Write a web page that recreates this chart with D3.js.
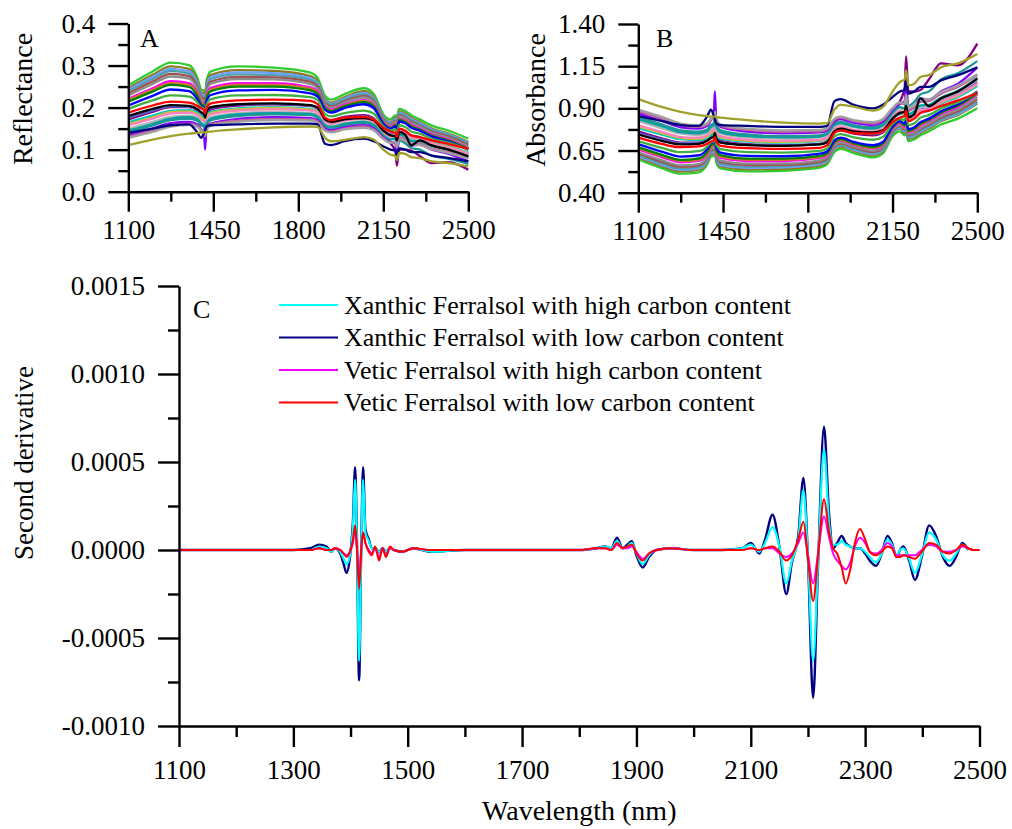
<!DOCTYPE html>
<html>
<head>
<meta charset="utf-8">
<script src="https://cdn.jsdelivr.net/npm/d3@7"></script>
<style>
  html, body { margin: 0; padding: 0; background: #fff; }
  svg { display: block; font-family: "Liberation Serif", "Times New Roman", Times, serif; }
  svg text { font-family: "Liberation Serif", "Times New Roman", Times, serif; }
</style>
</head>
<body>
<svg id="fig" width="1012" height="829"></svg>
<script>
// ---------- Panels A and B: raw spectra of the soil samples ----------
const spectraWavelengths = [1100,1200,1275,1350,1385,1400,1412,1416,1422,1440,1550,1700,1850,1880,1910,1935,1990,2070,2110,2150,2180,2200,2206,2215,2240,2265,2300,2350,2420,2500];

const reflectanceSpectra = [
  [.253,.286,.307,.301,.270,.243,.240,.226,.264,.286,.298,.295,.283,.270,.228,.219,.232,.246,.233,.184,.172,.182,.177,.197,.192,.182,.172,.157,.145,.126],
  [.246,.278,.298,.292,.262,.236,.233,.219,.256,.278,.289,.287,.275,.262,.221,.212,.225,.239,.226,.178,.166,.176,.170,.191,.186,.176,.166,.150,.138,.118],
  [.242,.273,.292,.286,.257,.232,.229,.215,.251,.273,.284,.282,.270,.258,.218,.209,.222,.235,.223,.176,.164,.173,.167,.188,.183,.173,.163,.148,.136,.116],
  [.238,.268,.287,.281,.253,.228,.225,.212,.247,.268,.279,.277,.266,.254,.215,.207,.219,.232,.220,.174,.162,.171,.165,.185,.180,.170,.160,.146,.134,.115],
  [.233,.262,.280,.275,.248,.224,.220,.208,.242,.262,.273,.272,.261,.250,.211,.203,.215,.228,.216,.172,.160,.168,.161,.182,.177,.167,.157,.143,.131,.111],
  [.229,.256,.274,.269,.243,.220,.216,.204,.237,.257,.268,.267,.256,.245,.208,.200,.212,.224,.213,.170,.158,.166,.158,.179,.175,.164,.155,.140,.128,.108],
  [.221,.246,.263,.258,.234,.213,.209,.198,.229,.247,.258,.258,.248,.238,.203,.195,.207,.218,.207,.166,.154,.162,.153,.174,.170,.159,.150,.136,.124,.104],
  [.218,.242,.258,.254,.231,.211,.206,.196,.226,.243,.254,.254,.245,.235,.201,.193,.205,.216,.205,.164,.152,.160,.151,.172,.168,.157,.148,.134,.122,.103],
  [.214,.238,.254,.249,.227,.208,.204,.193,.222,.239,.250,.250,.241,.232,.199,.191,.203,.213,.203,.163,.151,.158,.149,.171,.166,.155,.147,.133,.121,.102],
  [.205,.228,.243,.239,.219,.203,.199,.190,.214,.230,.241,.242,.234,.226,.195,.188,.199,.208,.199,.161,.150,.155,.145,.167,.163,.152,.145,.131,.119,.100],
  [.197,.217,.229,.226,.212,.200,.197,.188,.206,.220,.229,.230,.225,.218,.185,.179,.187,.193,.186,.156,.146,.148,.138,.158,.154,.143,.138,.126,.116,.101],
  [.172,.190,.201,.201,.192,.182,.178,.165,.184,.196,.205,.208,.204,.197,.175,.170,.178,.182,.175,.140,.115,.095,.062,.100,.100,.098,.085,.068,.070,.052],
  [.176,.193,.203,.202,.194,.185,.181,.171,.187,.199,.207,.209,.205,.199,.174,.169,.175,.179,.173,.146,.136,.136,.124,.145,.139,.128,.126,.114,.104,.088],
  [.165,.181,.192,.194,.188,.180,.177,.167,.180,.190,.198,.201,.197,.191,.170,.166,.174,.178,.171,.143,.134,.138,.128,.148,.143,.133,.130,.118,.108,.093],
  [.161,.177,.189,.191,.185,.176,.172,.162,.176,.187,.196,.199,.195,.189,.168,.163,.171,.175,.168,.141,.132,.136,.126,.146,.141,.131,.128,.116,.106,.091],
  [.158,.174,.186,.188,.182,.172,.168,.157,.172,.184,.193,.196,.193,.187,.166,.161,.169,.173,.166,.140,.131,.135,.124,.145,.140,.129,.127,.115,.105,.090],
  [.150,.166,.178,.181,.176,.166,.162,.150,.165,.177,.187,.190,.187,.181,.160,.156,.163,.168,.161,.136,.126,.129,.116,.139,.134,.124,.122,.111,.101,.085],
  [.146,.161,.174,.177,.172,.162,.158,.146,.162,.174,.184,.187,.185,.179,.158,.154,.161,.166,.159,.134,.124,.126,.112,.136,.131,.121,.120,.109,.099,.083],
  [.142,.157,.170,.173,.168,.158,.154,.142,.158,.170,.180,.184,.182,.176,.155,.151,.158,.163,.156,.130,.118,.116,.100,.122,.115,.104,.100,.085,.078,.066],
  [.135,.150,.163,.166,.160,.148,.140,.100,.150,.162,.173,.177,.175,.170,.150,.146,.153,.158,.151,.129,.118,.115,.088,.128,.122,.110,.112,.100,.090,.072],
  [.131,.146,.159,.162,.157,.147,.143,.135,.148,.160,.169,.173,.172,.167,.147,.143,.150,.155,.148,.127,.117,.119,.108,.130,.125,.115,.114,.103,.094,.080],
  [.128,.142,.155,.159,.154,.145,.141,.132,.146,.157,.166,.170,.169,.164,.145,.141,.148,.152,.146,.125,.116,.118,.105,.126,.121,.112,.111,.101,.092,.079],
  [.140,.150,.158,.160,.140,.128,.140,.145,.155,.158,.160,.162,.162,.160,.114,.111,.120,.126,.120,.108,.100,.098,.085,.103,.100,.094,.094,.086,.080,.072],
  [.111,.124,.132,.138,.140,.141,.141,.141,.142,.143,.148,.153,.155,.154,.128,.120,.123,.130,.124,.100,.088,.085,.075,.092,.090,.082,.080,.072,.068,.060],
  [.180,.197,.206,.204,.196,.189,.185,.176,.190,.201,.208,.210,.206,.200,.172,.166,.172,.175,.170,.145,.134,.132,.122,.142,.136,.110,.122,.110,.100,.084],
  [.188,.205,.214,.212,.204,.198,.194,.186,.198,.210,.217,.219,.216,.208,.176,.170,.176,.178,.172,.152,.143,.140,.130,.150,.145,.134,.130,.122,.113,.102]
];

const absorbanceSpectra = [
  [.597,.544,.513,.521,.569,.614,.620,.646,.578,.544,.526,.530,.548,.569,.642,.660,.635,.609,.633,.735,.764,.740,.752,.706,.717,.740,.764,.804,.839,.900],
  [.609,.556,.526,.535,.582,.627,.633,.660,.592,.556,.539,.542,.561,.582,.656,.674,.648,.622,.646,.750,.780,.754,.770,.719,.730,.754,.780,.824,.860,.928],
  [.616,.564,.535,.544,.590,.635,.640,.668,.600,.564,.547,.550,.569,.588,.662,.680,.654,.629,.652,.754,.785,.762,.777,.726,.738,.762,.788,.830,.866,.935],
  [.623,.572,.542,.551,.597,.642,.648,.674,.607,.572,.554,.558,.575,.595,.668,.684,.660,.635,.658,.759,.790,.767,.782,.733,.745,.770,.796,.836,.873,.939],
  [.633,.582,.553,.561,.606,.650,.658,.682,.616,.582,.564,.565,.583,.602,.676,.693,.668,.642,.666,.764,.796,.775,.793,.740,.752,.777,.804,.845,.883,.955],
  [.640,.592,.562,.570,.614,.658,.666,.690,.625,.590,.572,.573,.592,.611,.682,.699,.674,.650,.672,.770,.801,.780,.801,.747,.757,.785,.810,.854,.893,.967],
  [.656,.609,.580,.588,.631,.672,.680,.703,.640,.607,.588,.588,.606,.623,.693,.710,.684,.662,.684,.780,.812,.790,.815,.759,.770,.799,.824,.866,.907,.983],
  [.662,.616,.588,.595,.636,.676,.686,.708,.646,.614,.595,.595,.611,.629,.697,.714,.688,.666,.688,.785,.818,.796,.821,.764,.775,.804,.830,.873,.914,.987],
  [.670,.623,.595,.604,.644,.682,.690,.714,.654,.622,.602,.602,.618,.635,.701,.719,.693,.672,.693,.788,.821,.801,.827,.767,.780,.810,.833,.876,.917,.991],
  [.688,.642,.614,.622,.660,.693,.701,.721,.670,.638,.618,.616,.631,.646,.710,.726,.701,.682,.701,.793,.824,.810,.839,.777,.788,.818,.839,.883,.924,1.000],
  [.706,.664,.640,.646,.674,.699,.706,.726,.686,.658,.640,.638,.648,.662,.733,.747,.728,.714,.730,.807,.836,.830,.860,.801,.812,.845,.860,.900,.935,.996],
  [.764,.721,.697,.697,.717,.740,.750,.782,.735,.708,.688,.682,.690,.706,.757,.770,.750,.740,.757,.854,.939,1.022,1.208,1.000,1.000,1.009,1.071,1.167,1.155,1.284],
  [.754,.714,.693,.695,.712,.733,.742,.767,.728,.701,.684,.680,.688,.701,.759,.772,.757,.747,.762,.836,.866,.866,.907,.839,.857,.893,.900,.943,.983,1.056],
  [.782,.742,.717,.712,.726,.745,.752,.777,.745,.721,.703,.697,.706,.719,.770,.780,.759,.750,.767,.845,.873,.860,.893,.830,.845,.876,.886,.928,.967,1.032],
  [.793,.752,.724,.719,.733,.754,.764,.790,.754,.728,.708,.701,.710,.724,.775,.788,.767,.757,.775,.851,.879,.866,.900,.836,.851,.883,.893,.935,.975,1.041],
  [.801,.759,.730,.726,.740,.764,.775,.804,.764,.735,.714,.708,.714,.728,.780,.793,.772,.762,.780,.854,.883,.870,.907,.839,.854,.889,.896,.939,.979,1.046],
  [.824,.780,.750,.742,.754,.780,.790,.824,.782,.752,.728,.721,.728,.742,.796,.807,.788,.775,.793,.866,.900,.889,.935,.857,.873,.907,.914,.955,.996,1.071],
  [.836,.793,.759,.752,.764,.790,.801,.836,.790,.759,.735,.728,.733,.747,.801,.812,.793,.780,.799,.873,.907,.900,.951,.866,.883,.917,.921,.963,1.004,1.081],
  [.848,.804,.770,.762,.775,.801,.812,.848,.801,.770,.745,.735,.740,.754,.810,.821,.801,.788,.807,.886,.928,.935,1.000,.914,.939,.983,1.000,1.071,1.108,1.180],
  [.870,.824,.788,.780,.796,.830,.854,1.000,.824,.790,.762,.752,.757,.770,.824,.836,.815,.801,.821,.889,.928,.939,1.056,.893,.914,.959,.951,1.000,1.046,1.143],
  [.883,.836,.799,.790,.804,.833,.845,.870,.830,.796,.772,.762,.764,.777,.833,.845,.824,.810,.830,.896,.932,.924,.967,.886,.903,.939,.943,.987,1.027,1.097],
  [.893,.848,.810,.799,.812,.839,.851,.879,.836,.804,.780,.770,.772,.785,.839,.851,.830,.818,.836,.903,.935,.928,.979,.900,.917,.951,.955,.996,1.036,1.102],
  [.854,.824,.801,.796,.854,.893,.854,.839,.810,.801,.796,.790,.790,.796,.943,.955,.921,.900,.921,.967,1.000,1.009,1.071,.987,1.000,1.027,1.027,1.066,1.097,1.143],
  [.955,.907,.879,.860,.854,.851,.851,.851,.848,.845,.830,.815,.810,.812,.893,.921,.910,.886,.907,1.000,1.056,1.071,1.125,1.036,1.046,1.086,1.097,1.143,1.167,1.222],
  [.745,.706,.686,.690,.708,.724,.733,.754,.721,.697,.682,.678,.686,.699,.764,.780,.764,.757,.770,.839,.873,.879,.914,.848,.866,.959,.914,.959,1.000,1.076],
  [.726,.688,.670,.674,.690,.703,.712,.730,.703,.678,.664,.660,.666,.682,.754,.770,.754,.750,.764,.818,.845,.854,.886,.824,.839,.873,.886,.914,.947,.991]
];

const spectraColors = ["#2ecc2e","#8b7a20","#70a0ff","#4f9fb0","#a05050","#8c8c8c","#ff00ff","#c87828","#008000","#0000ff","#40b040","#800080","#6060d0","#00c8c8","#c8c030","#ff80c0","#b4b4b4","#00a0a0","#1e9696","#8000ff","#c060a0","#a0a0a0","#000080","#a0a02a","#000000","#ff0000"];

// ---------- Panel C: mean second-derivative spectra ----------
const derivWavelengths = [1100,1200,1300,1330,1345,1358,1366,1373,1382,1388,1393,1399,1404,1408,1411,1415,1419,1422,1426,1432,1437,1443,1450,1456,1462,1469,1476,1490,1510,1540,1600,1700,1800,1830,1845,1856,1866,1876,1884,1892,1900,1911,1922,1935,1960,2000,2050,2085,2100,2115,2125,2138,2150,2162,2172,2183,2192,2200,2209,2218,2228,2237,2244,2251,2259,2266,2274,2282,2291,2300,2308,2319,2329,2339,2347,2355,2361,2367,2377,2387,2399,2412,2424,2436,2448,2459,2470,2480,2490,2500];

const xanthicHigh = [0,0,0,0,0.00002,0.00001,-0.00001,0.00001,-0.00001,-0.00005,-0.00008,-0.00003,0.00012,0.0004,0.00008,-0.00063,0.00006,0.0004,0.0001,0.00005,0.00001,0.00001,-0.00001,0.00001,-0.00001,0.00001,0,-0.00001,0.00001,-0.00001,0,0,0,0.00001,0.00002,0.00001,0.00005,0.00001,0.00002,0.00004,-0.00002,-0.00008,-0.00003,0,0.00001,0,0,0.00001,0.00003,-0.00001,0.00004,0.00013,0.00002,-0.00019,-0.00006,0.00006,0.00034,-0.00004,-0.00063,-0.00004,0.00057,0.00015,0.00003,0.00003,0.00005,0.00003,0.00002,0.00001,0.00001,-0.00001,-0.00004,-0.00007,-0.00002,0.00006,0.00003,-0.00003,0,0.00001,-0.00005,-0.00013,-0.00003,0.0001,0.00006,-0.00003,-0.00006,-0.00002,0.00003,0,null,null];
const xanthicLow = [0,0,0,0.00001,0.00003,0.00002,-0.00001,0.00001,-0.00002,-0.00008,-0.00013,-0.00004,0.00015,0.00047,0.0001,-0.00074,0.00008,0.00047,0.00012,0.00006,0.00001,0.00001,-0.00001,0.00001,-0.00001,0.00001,0,-0.00001,0.00001,-0.00001,0,0,0,0.00001,0.00002,0.00001,0.00007,0.00001,0.00003,0.00005,-0.00003,-0.0001,-0.00004,0,0.00001,0,0,0.00001,0.00004,-0.00002,0.00006,0.0002,0.00002,-0.00025,-0.00007,0.00008,0.00041,-0.00005,-0.00084,-0.00005,0.0007,0.0002,0.00001,0.00004,0.00008,0.00004,0.00002,0.00001,0.00001,-0.00002,-0.00006,-0.00009,-0.00002,0.00008,0.00004,-0.00004,0,0.00002,-0.00006,-0.00017,-0.00004,0.00014,0.00008,-0.00004,-0.00009,-0.00004,0.00004,0,null,null];
const veticHigh = [0,0,0,0,0.00001,0,0,0.00001,0,-0.00002,-0.00003,-0.00001,0.00004,0.00012,0.00002,-0.00017,0.00002,0.0001,0.00004,0,-0.00002,0.00001,-0.00004,0.00001,-0.00003,0.00001,0,-0.00001,0.00001,0,0,0,0,0.00001,0.00001,0,0.00003,0.00001,0.00001,0.00002,-0.00001,-0.00005,-0.00002,0,0.00001,0,0,0,0.00001,0,0.00001,0.00001,-0.00002,-0.00004,-0.00002,0.00004,0.0001,-0.00003,-0.00019,-0.00001,0.00019,0.00007,-0.00002,-0.00006,-0.00009,-0.00011,-0.00007,0.00002,0.00007,0.00004,-0.00001,-0.00002,0,0.00004,0.00002,-0.00003,-0.00003,-0.00003,-0.00003,-0.00003,0,0.00003,0.00002,-0.00001,-0.00001,0,0.00002,0.00001,0,0];
const veticLow = [0,0,0,0,0.00001,0,0,0.00001,0,-0.00002,-0.00004,-0.00001,0.00005,0.00014,0.00002,-0.00022,0.00002,0.0001,0.00004,-0.00001,-0.00003,0.00002,-0.00006,0.00001,-0.00004,0.00002,0,-0.00001,0.00001,0,0,0,0,0.00001,0.00001,0,0.00004,0.00001,0.00002,0.00003,-0.00002,-0.00006,-0.00002,0,0.00001,0,0,0,0.00001,0,0.00001,0.00002,-0.00001,-0.00006,-0.00003,0.00006,0.00016,-0.00005,-0.00029,-0.00002,0.00029,0.0001,0.00001,-0.00002,-0.0001,-0.00019,-0.00011,0.00004,0.00012,0.00006,-0.00001,-0.00003,-0.00001,0.00002,0.00001,-0.00004,-0.00004,-0.00003,-0.00004,-0.00005,-0.00001,0.00004,0.00003,-0.00001,-0.00002,0,0.00003,0.00001,0,0];

const legendNames = ["Xanthic Ferralsol with high carbon content","Xanthic Ferralsol with low carbon content","Vetic Ferralsol with high carbon content","Vetic Ferralsol with low carbon content"];
const legendColors = ["#00ffff","#000080","#ff00ff","#ff0000"];

// ---------- Tick values ----------
const reflectanceTicks = [0.0,0.1,0.2,0.3,0.4];
const reflectanceMinor = [0.05,0.15,0.25,0.35];
const absorbanceTicks = [0.40,0.65,0.90,1.15,1.40];
const absorbanceMinor = [0.525,0.775,1.025,1.275];
const spectraWlTicks = [1100,1450,1800,2150,2500];
const spectraWlMinor = [1275,1625,1975,2325];
const derivTicks = [-0.0010,-0.0005,0.0000,0.0005,0.0010,0.0015];
const derivMinor = [-0.00075,-0.00025,0.00025,0.00075,0.00125];
const derivWlTicks = [1100,1300,1500,1700,1900,2100,2300,2500];
const derivWlMinor = [1200,1400,1600,1800,2000,2200,2400];

const svg = d3.select("#fig");
const AXIS_W = 2.4;
const SERIF = '"Liberation Serif", "Times New Roman", Times, serif';

// fixed-decimal labels with a plain hyphen for negatives
const fixed = n => d => d3.format(`.${n}f`)(d).replace("\u2212", "-");

function styleAxis(g, fontSize) {
  g.attr("font-family", SERIF).attr("font-size", fontSize);
  g.selectAll("path, line").attr("stroke", "#000").attr("stroke-width", AXIS_W);
  g.selectAll("text").attr("font-family", SERIF).attr("font-size", fontSize).attr("fill", "#000");
}

function drawAxes(x, y, opt) {
  const [y0] = y.range();
  const gx = svg.append("g").attr("transform", `translate(0,${y0})`)
    .call(d3.axisBottom(x).tickValues(opt.xMajor).tickSize(opt.major).tickSizeOuter(0)
      .tickPadding(opt.xPad).tickFormat(d3.format("d")));
  styleAxis(gx, opt.font);
  const gxm = svg.append("g").attr("transform", `translate(0,${y0})`)
    .call(d3.axisBottom(x).tickValues(opt.xMinor).tickSize(opt.minor).tickFormat(""));
  gxm.select(".domain").remove();
  styleAxis(gxm, opt.font);

  const x0 = x.range()[0];
  const gy = svg.append("g").attr("transform", `translate(${x0},0)`)
    .call(d3.axisLeft(y).tickValues(opt.yMajor).tickSize(opt.major).tickSizeOuter(0)
      .tickPadding(opt.yPad).tickFormat(opt.yFmt));
  styleAxis(gy, opt.font);
  const gym = svg.append("g").attr("transform", `translate(${x0},0)`)
    .call(d3.axisLeft(y).tickValues(opt.yMinor).tickSize(opt.minor).tickFormat(""));
  gym.select(".domain").remove();
  styleAxis(gym, opt.font);
}

function yTitle(text, x, y, size) {
  svg.append("text").attr("transform", `translate(${x},${y}) rotate(-90)`)
    .attr("text-anchor", "middle").attr("font-family", SERIF).attr("font-size", size)
    .attr("fill", "#000").text(text);
}

function panelLetter(t, x, y) {
  svg.append("text").attr("x", x).attr("y", y).attr("font-family", SERIF)
    .attr("font-size", 26).attr("fill", "#000").text(t);
}

// ---------- Panel A ----------
const xA = d3.scaleLinear().domain([1100, 2500]).range([128.3, 468.3]);
const yA = d3.scaleLinear().domain([0, 0.4]).range([191.7, 23.5]);
const lineA = d3.line().x((d, i) => xA(spectraWavelengths[i])).y(d => yA(d)).curve(d3.curveMonotoneX);
svg.append("g").selectAll("path").data(reflectanceSpectra).join("path")
  .attr("d", lineA).attr("fill", "none").attr("stroke-width", 2.3)
  .attr("stroke", (d, i) => spectraColors[i]);
drawAxes(xA, yA, { xMajor: spectraWlTicks, xMinor: spectraWlMinor, yMajor: reflectanceTicks, yMinor: reflectanceMinor,
  major: 20, minor: 10, xPad: 8, yPad: 13, font: 27, yFmt: fixed(1) });
yTitle("Reflectance", 32, 99, 28);
panelLetter("A", 140, 47);

// ---------- Panel B ----------
const xB = d3.scaleLinear().domain([1100, 2500]).range([638.3, 977.3]);
const yB = d3.scaleLinear().domain([0.40, 1.40]).range([192.7, 24]);
const lineB = d3.line().x((d, i) => xB(spectraWavelengths[i])).y(d => yB(d)).curve(d3.curveMonotoneX);
svg.append("g").selectAll("path").data(absorbanceSpectra).join("path")
  .attr("d", lineB).attr("fill", "none").attr("stroke-width", 2.3)
  .attr("stroke", (d, i) => spectraColors[i]);
drawAxes(xB, yB, { xMajor: spectraWlTicks, xMinor: spectraWlMinor, yMajor: absorbanceTicks, yMinor: absorbanceMinor,
  major: 20, minor: 10, xPad: 8, yPad: 13, font: 27, yFmt: fixed(2) });
yTitle("Absorbance", 545, 100, 28);
panelLetter("B", 656, 47);

// ---------- Panel C ----------
const xC = d3.scaleLinear().domain([1100, 2500]).range([179, 979.5]);
const yC = d3.scaleLinear().domain([-0.0010, 0.0015]).range([726, 286]);
const lineC = d3.line().defined(d => d != null)
  .x((d, i) => xC(derivWavelengths[i])).y(d => yC(d)).curve(d3.curveMonotoneX);
const derivSeries = [
  { values: xanthicLow, color: legendColors[1], w: 2.4 },
  { values: xanthicHigh, color: legendColors[0], w: 2.2 },
  { values: veticHigh, color: legendColors[2], w: 2 },
  { values: veticLow, color: legendColors[3], w: 2 }
];
svg.append("g").selectAll("path").data(derivSeries).join("path")
  .attr("d", d => lineC(d.values)).attr("fill", "none")
  .attr("stroke", d => d.color).attr("stroke-width", d => d.w);
drawAxes(xC, yC, { xMajor: derivWlTicks, xMinor: derivWlMinor, yMajor: derivTicks, yMinor: derivMinor,
  major: 21, minor: 11, xPad: 13, yPad: 13, font: 27, yFmt: fixed(4) });
yTitle("Second derivative", 33, 463, 27);
svg.append("text").attr("x", xC(1800)).attr("y", 820).attr("text-anchor", "middle")
  .attr("font-family", SERIF).attr("font-size", 28).attr("fill", "#000").text("Wavelength (nm)");
panelLetter("C", 193, 318);

// Legend
const legendRowY = [305, 337.5, 370, 402.5];
const legend = svg.append("g");
legendNames.forEach((name, i) => {
  legend.append("line").attr("x1", 279).attr("x2", 338).attr("y1", legendRowY[i]).attr("y2", legendRowY[i])
    .attr("stroke", legendColors[i]).attr("stroke-width", 2);
  legend.append("text").attr("x", 344).attr("y", legendRowY[i] + 8.5)
    .attr("font-family", SERIF).attr("font-size", 26).attr("fill", "#000").text(name);
});
</script>
</body>
</html>
